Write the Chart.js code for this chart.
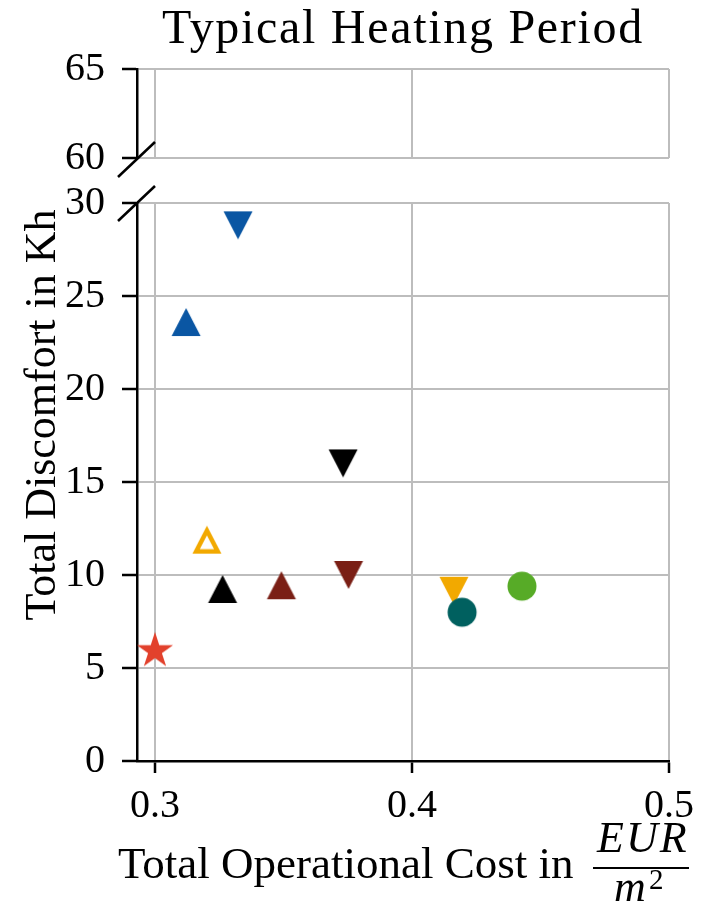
<!DOCTYPE html>
<html>
<head>
<meta charset="utf-8">
<script src="https://cdn.jsdelivr.net/npm/chart.js@4.4.0/dist/chart.umd.min.js"></script>
<style>
  html, body { margin: 0; padding: 0; background: #fff; }
  #wrap { position: relative; width: 718px; height: 907px; }
  canvas { position: absolute; left: 0; }
  #top { top: 0; }
  #bottom { top: 158px; }
</style>
</head>
<body>
<div id="wrap">
  <canvas id="top" width="718" height="203"></canvas>
  <canvas id="bottom" width="718" height="749"></canvas>
</div>
<script>
// values
const costs = [0.3323, 0.3121, 0.3732, 0.3202, 0.3263, 0.3492, 0.3753, 0.4163, 0.4195, 0.4428, 0.300];
const discomforts = [28.8, 23.6, 16.0, 11.9, 9.25, 9.45, 10.0, 9.15, 8.0, 9.4, 6.0];
const markers = ["down", "up", "down", "openUp", "up", "up", "down", "down", "circle", "circle", "star"];
const colors = ["#0a56a3", "#0a56a3", "#000000", "#f2a900", "#000000", "#7a1f15", "#7a1f15", "#f2a900", "#00605f", "#57ab27", "#e2412c"];

const xTicks = [0.3, 0.4, 0.5];
const topTicks = [60, 65];
const bottomTicks = [0, 5, 10, 15, 20, 25, 30];

const FONT = "'Liberation Serif', 'Times New Roman', serif";
const GRID = "#bdbdbd";

// marker images, roughly the matplotlib shapes
function makeMarker(kind, color) {
  const c = document.createElement("canvas");
  const s = kind === "star" ? 40 : 32;
  c.width = s; c.height = s;
  const g = c.getContext("2d");
  const m = s / 2;
  g.fillStyle = color;
  g.strokeStyle = color;
  g.lineJoin = "round";
  if (kind === "up" || kind === "down" || kind === "openUp") {
    const hw = 14.5, hh = 14;
    const d = kind === "down" ? -1 : 1;
    g.beginPath();
    g.moveTo(m, m - d * hh);
    g.lineTo(m - hw, m + d * hh);
    g.lineTo(m + hw, m + d * hh);
    g.closePath();
    if (kind === "openUp") {
      g.fillStyle = "#fff";
      g.fill();
      g.save();
      g.clip();
      g.lineWidth = 9;
      g.stroke();
      g.restore();
    } else {
      g.fill();
    }
  } else if (kind === "circle") {
    g.beginPath();
    g.arc(m, m, 14.5, 0, Math.PI * 2);
    g.fill();
  } else if (kind === "star") {
    const R = 19, r = 19 * 0.382;
    const cy = m + 1.5;
    g.beginPath();
    for (let i = 0; i < 10; i++) {
      const a = -Math.PI / 2 + i * Math.PI / 5;
      const rr = i % 2 === 0 ? R : r;
      g.lineTo(m + rr * Math.cos(a), cy + rr * Math.sin(a));
    }
    g.closePath();
    g.fill();
  }
  return c;
}

const markerImages = markers.map((k, i) => makeMarker(k, colors[i]));

function pointsIn(lo, hi) {
  const pts = [], imgs = [];
  costs.forEach((x, i) => {
    if (discomforts[i] >= lo && discomforts[i] <= hi) {
      pts.push({ x: x, y: discomforts[i] });
      imgs.push(markerImages[i]);
    }
  });
  return { pts, imgs };
}

function yScale(min, max, ticks) {
  return {
    type: "linear",
    min: min,
    max: max,
    afterBuildTicks: (s) => { s.ticks = ticks.map(v => ({ value: v })); },
    afterFit: (s) => { s.width = 137; },
    grid: { color: GRID, lineWidth: 2, tickColor: "#000", tickLength: 15, tickWidth: 2.5 },
    border: { color: "#000", width: 2.5 },
    ticks: { color: "#000", font: { family: FONT, size: 40 }, padding: 17 },
  };
}

// diagonal break marks on the left spine
function breakPlugin(where) {
  return {
    id: "breakMarks",
    afterDraw(chart) {
      const ctx = chart.ctx;
      const a = chart.chartArea;
      const cy = where === "bottom" ? a.bottom + 1 : a.top;
      ctx.save();
      ctx.strokeStyle = "#000";
      ctx.lineWidth = 2.5;
      ctx.beginPath();
      ctx.moveTo(a.left - 19, cy + 18);
      ctx.lineTo(a.left + 18, cy - 17);
      ctx.stroke();
      ctx.restore();
    },
  };
}

const titlePlugin = {
  id: "titleText",
  afterDraw(chart) {
    const ctx = chart.ctx;
    ctx.save();
    ctx.fillStyle = "#000";
    ctx.font = "48px " + FONT;
    ctx.letterSpacing = "1.7px";
    ctx.textAlign = "left";
    ctx.textBaseline = "alphabetic";
    ctx.fillText("Typical Heating Period", 162, 43);
    ctx.restore();
  },
};

const axisTextPlugin = {
  id: "axisTexts",
  afterDraw(chart) {
    const ctx = chart.ctx;
    ctx.save();
    ctx.fillStyle = "#000";
    ctx.strokeStyle = "#000";
    ctx.textBaseline = "alphabetic";
    // y label
    ctx.save();
    ctx.translate(55, 257);
    ctx.rotate(-Math.PI / 2);
    ctx.font = "44px " + FONT;
    ctx.textAlign = "center";
    ctx.fillText("Total Discomfort in Kh", 0, 0);
    ctx.restore();
    // x label with the EUR / m^2 fraction
    ctx.font = "45px " + FONT;
    ctx.textAlign = "left";
    ctx.fillText("Total Operational Cost in", 118, 720);
    ctx.font = "italic 44px " + FONT;
    ctx.letterSpacing = "2px";
    ctx.fillText("EUR", 597, 694);
    ctx.letterSpacing = "0px";
    ctx.fillText("m", 614, 743);
    ctx.font = "29px " + FONT;
    ctx.fillText("2", 649, 731);
    ctx.lineWidth = 2;
    ctx.beginPath();
    ctx.moveTo(593, 710);
    ctx.lineTo(689, 710);
    ctx.stroke();
    ctx.restore();
  },
};

const xBase = {
  type: "linear",
  min: 0.293,
  max: 0.5,
  afterBuildTicks: (s) => { s.ticks = xTicks.map(v => ({ value: v })); },
};

const upper = pointsIn(60, 65);
new Chart(document.getElementById("top"), {
  type: "scatter",
  data: { datasets: [{ data: upper.pts, pointStyle: upper.imgs }] },
  options: {
    responsive: false,
    animation: false,
    layout: { padding: { left: 0, right: 49, top: 69, bottom: 45 } },
    plugins: { legend: { display: false }, tooltip: { enabled: false } },
    scales: {
      x: Object.assign({}, xBase, {
        afterFit: (s) => { s.height = 0; },
        grid: { color: GRID, lineWidth: 2, drawTicks: false },
        border: { display: false },
        ticks: { display: false },
      }),
      y: yScale(60, 65, topTicks),
    },
  },
  plugins: [titlePlugin, breakPlugin("bottom")],
});

const lower = pointsIn(0, 30);
new Chart(document.getElementById("bottom"), {
  type: "scatter",
  data: { datasets: [{ data: lower.pts, pointStyle: lower.imgs, pointRadius: 15, clip: false }] },
  options: {
    responsive: false,
    animation: false,
    layout: { padding: { left: 0, right: 49, top: 45, bottom: 0 } },
    plugins: { legend: { display: false }, tooltip: { enabled: false } },
    scales: {
      x: Object.assign({}, xBase, {
        afterFit: (s) => { s.height = 146; },
        grid: { color: GRID, lineWidth: 2, tickColor: "#000", tickLength: 12, tickWidth: 2.5 },
        border: { color: "#000", width: 2.5 },
        ticks: { color: "#000", font: { family: FONT, size: 40 }, padding: 9 },
      }),
      y: yScale(0, 30, bottomTicks),
    },
  },
  plugins: [axisTextPlugin, breakPlugin("top")],
});
</script>
</body>
</html>
